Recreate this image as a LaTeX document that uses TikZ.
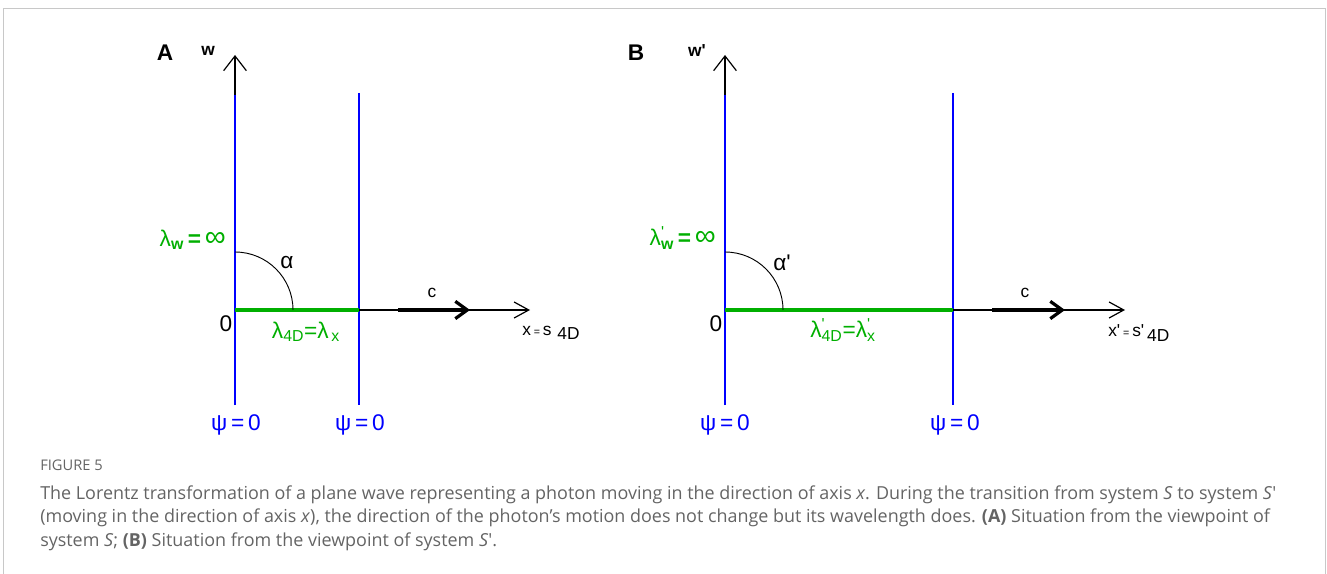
\documentclass[tikz,border=0pt]{standalone}
\usepackage{fontspec}
\setmainfont{Liberation Sans}
\newfontfamily\capfont{Open Sans}
\usetikzlibrary{arrows.meta}
\definecolor{wblue}{RGB}{0,0,255}
\definecolor{wgreen}{RGB}{0,175,0}
\definecolor{capgray}{RGB}{100,100,100}
\definecolor{framegray}{RGB}{200,200,200}
\newcommand{\pr}{\textquotesingle}
\newcommand{\lamp}[1]{λ\rlap{\textsuperscript{\pr}}\textsubscript{#1}}
\newcommand{\binf}{{\fontsize{22}{17}\selectfont ∞}}
\tikzset{
  wave/.style={wblue, line width=2pt},
  wavelen/.style={wgreen, line width=2.3pt},
  axis/.style={black, line width=0.9pt, -{Straight Barb[length=11pt,width=17pt,line width=0.9pt]}},
  xaxis/.style={black, line width=0.9pt, -{Straight Barb[length=11pt,width=12pt,line width=0.9pt]}},
  photon/.style={black, line width=2.4pt, -{Straight Barb[length=9pt,width=13pt,line width=2.4pt]}},
  anglearc/.style={black, line width=0.7pt},
  lbl/.style={font=\fontsize{17}{17}\selectfont, inner sep=0pt},
  small/.style={font=\fontsize{13}{13}\selectfont, inner sep=0pt},
  panel/.style={font=\fontsize{17}{17}\selectfont\bfseries, inner sep=0pt},
  capline/.style={font=\capfont\fontsize{13.45}{13.45}\selectfont, text=capgray, inner sep=0pt, anchor=base west},
}
\begin{document}
\begin{tikzpicture}[x=0.75pt, y=-0.75pt]
\useasboundingbox (0,0) rectangle (1327,574);
\draw[framegray, line width=1pt] (3.5,600) -- (3.5,8.5) -- (1325.5,8.5) -- (1325.5,600);

% ---------------- Panel A ----------------
\coordinate (Ao) at (235,310);
\coordinate (Atop) at (235,55);
\coordinate (Abot) at (235,405);
\coordinate (Aw2t) at (359,93);
\coordinate (Aw2b) at (359,405);
\coordinate (Ax2) at (359,310);
\coordinate (Axe) at (530,310);
\coordinate (Acs) at (398,310);
\coordinate (Ace) at (470,310);
\draw[axis] (Abot) -- (Atop);
\draw[wave] (235,95) -- (Abot);
\draw[wave] (Aw2t) -- (Aw2b);
\draw[xaxis] (Ax2) -- (Axe);
\draw[wavelen] (Ao) -- (Ax2);
\draw[photon] (Acs) -- (Ace);
\draw[anglearc] (293,310) arc[start angle=0, end angle=-90, radius=58];
\node[panel] (A) at (165,53) {A};
\node[small] (Aw) at (208,51) {\bfseries w};
\node[lbl, wgreen, anchor=east] (Alw) at (226,240) {λ\textsubscript{\bfseries w}\,\textbf{=}\,\binf};
\node[lbl] (Aalpha) at (287,263) {α};
\node[lbl] (A0) at (226,324) {0};
\node[lbl, wgreen] (Al4) at (306,332) {λ\textsubscript{4D}=λ\textsubscript{\,x}};
\node[small] (Ac) at (432,293) {c};
\node[small, anchor=west] (Ax) at (522,333) {x\,{\fontsize{8}{8}\selectfont=}\,s\,\,\raisebox{-0.5ex}{4D}};
\node[lbl, wblue] (Apsi1) at (236,425) {ψ\,=\,0};
\node[lbl, wblue] (Apsi2) at (360,425) {ψ\,=\,0};

% ---------------- Panel B ----------------
\coordinate (Bo) at (725,310);
\coordinate (Btop) at (725,55);
\coordinate (Bbot) at (725,405);
\coordinate (Bw2t) at (953,93);
\coordinate (Bw2b) at (953,405);
\coordinate (Bx2) at (953,310);
\coordinate (Bxe) at (1125,310);
\coordinate (Bcs) at (992,310);
\coordinate (Bce) at (1065,310);
\draw[axis] (Bbot) -- (Btop);
\draw[wave] (725,95) -- (Bbot);
\draw[wave] (Bw2t) -- (Bw2b);
\draw[xaxis] (Bx2) -- (Bxe);
\draw[wavelen] (Bo) -- (Bx2);
\draw[photon] (Bcs) -- (Bce);
\draw[anglearc] (783,310) arc[start angle=0, end angle=-90, radius=58];
\node[panel] (B) at (636,53) {B};
\node[small] (Bw) at (697,51) {\bfseries w\pr};
\node[lbl, wgreen, anchor=east] (Blw) at (716,238) {\lamp{\bfseries w}\,\textbf{=}\,\binf};
\node[lbl] (Balpha) at (782,263) {α\pr};
\node[lbl] (B0) at (716,324) {0};
\node[lbl, wgreen] (Bl4) at (843,330) {\lamp{4D}=\lamp{x}};
\node[small] (Bc) at (1025,293) {c};
\node[small, anchor=west] (Bx) at (1108,333) {x\pr\,{\fontsize{8}{8}\selectfont=}\,s\pr\,\raisebox{-0.5ex}{4D}};
\node[lbl, wblue] (Bpsi1) at (725,425) {ψ\,=\,0};
\node[lbl, wblue] (Bpsi2) at (955,425) {ψ\,=\,0};

% ---------------- Caption ----------------
\node[capline, font=\capfont\fontsize{11}{11}\selectfont] (fig) at (40,470) {FIGURE 5};
\node[capline] (c1) at (40,499) {The Lorentz transformation of a plane wave representing a photon moving in the direction of axis \textit{x}. During the transition from system \textit{S} to system \textit{S}′};
\node[capline] (c2) at (40,522) {(moving in the direction of axis \textit{x}), the direction of the photon’s motion does not change but its wavelength does. \textbf{(A)} Situation from the viewpoint of};
\node[capline] (c3) at (40,546) {system \textit{S}; \textbf{(B)} Situation from the viewpoint of system \textit{S}′.};
\end{tikzpicture}
\end{document}
